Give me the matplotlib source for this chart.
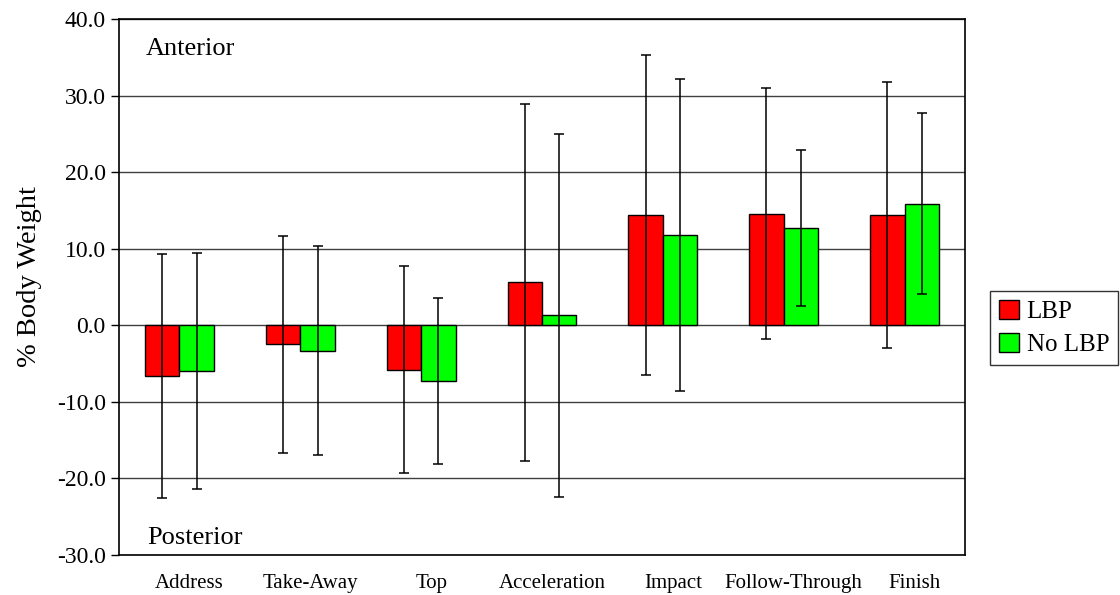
import numpy as np
import matplotlib
matplotlib.use("Agg")
import matplotlib.pyplot as plt
import matplotlib.transforms as mtransforms

phases = ["Address", "Take-Away", "Top", "Acceleration", "Impact", "Follow-Through", "Finish"]
lbp_mean = [-6.6, -2.5, -5.8, 5.6, 14.4, 14.6, 14.4]
lbp_sd = [15.95, 14.2, 13.55, 23.3, 20.9, 16.45, 17.4]
nolbp_mean = [-6.0, -3.3, -7.3, 1.3, 11.8, 12.7, 15.9]
nolbp_sd = [15.4, 13.65, 10.85, 23.7, 20.4, 10.15, 11.85]
yticks = np.arange(-30, 41, 10)

plt.rcParams['font.family'] = ['Liberation Serif', 'DejaVu Serif']

fig = plt.figure(figsize=(11.2, 5.95), dpi=100)
ax = fig.add_axes([0.1063, 0.0672, 0.7553, 0.9008])

x = np.arange(len(phases))
w = 0.285
err_kw = dict(ecolor="black", elinewidth=1.1, capsize=3.6, capthick=1.1)
ax.bar(x - w / 2, lbp_mean, w, yerr=lbp_sd, color="#ff0000", edgecolor="black",
       linewidth=1.0, label="LBP", error_kw=err_kw, zorder=3)
ax.bar(x + w / 2, nolbp_mean, w, yerr=nolbp_sd, color="#00ff00", edgecolor="black",
       linewidth=1.0, label="No LBP", error_kw=err_kw, zorder=3)

ax.set_xlim(-0.5, len(phases) - 0.5)
ax.set_ylim(-30, 40)
ax.set_yticks(yticks)
ax.set_yticklabels([f"{v:.1f}" for v in yticks], fontsize=17)
ax.set_xticks(x)
ax.set_xticklabels(phases, fontsize=15)
ax.tick_params(axis="x", length=0, pad=14)
ax.tick_params(axis="y", length=6, direction="out", width=1)
# labels sit a bit right of the bar groups, like the original
shift = mtransforms.ScaledTranslation(10 / 100, 0, fig.dpi_scale_trans)
for lab in ax.get_xticklabels():
    lab.set_transform(lab.get_transform() + shift)
ax.yaxis.grid(True, color="#404040", linewidth=1.0, zorder=0)
ax.set_axisbelow(True)
for s in ax.spines.values():
    s.set_linewidth(1.2)

ax.set_ylabel("% Body Weight", fontsize=20.5)
ax.yaxis.set_label_coords(-0.091, 0.519)

ax.text(0.031, 0.944, "Anterior", transform=ax.transAxes, fontsize=19, va="center")
ax.text(0.033, 0.032, "Posterior", transform=ax.transAxes, fontsize=19, va="center")

leg = ax.legend(loc="center left", bbox_to_anchor=(1.03, 0.4235), fontsize=18,
                frameon=True, fancybox=False, edgecolor="black",
                handlelength=0.8, handleheight=0.8, handletextpad=0.3,
                borderpad=0.35, labelspacing=0.4, borderaxespad=0)
leg.get_frame().set_linewidth(1.0)

fig.savefig("out.png", dpi=100)
